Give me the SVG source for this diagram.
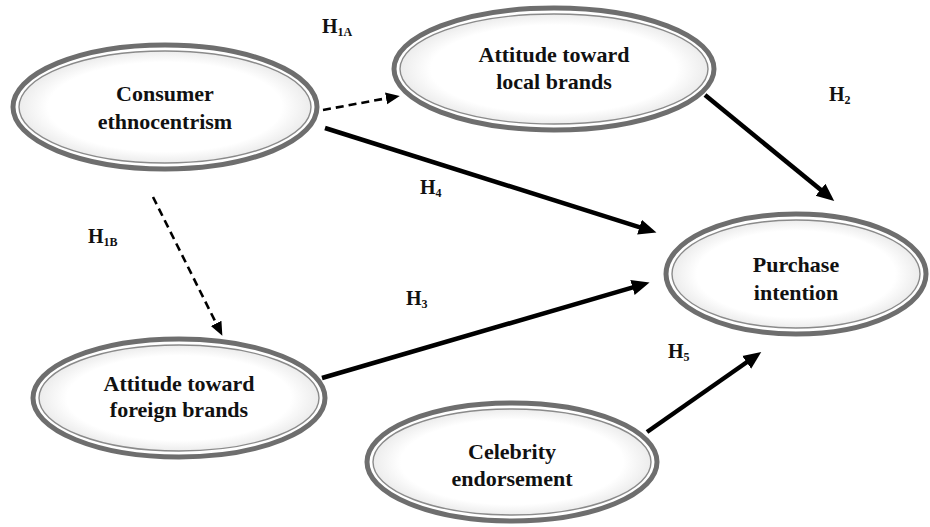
<svg xmlns="http://www.w3.org/2000/svg" width="930" height="527" viewBox="0 0 930 527">
<style>
.outer{fill:none;stroke:#6e6e6e;stroke-width:5}
.inner{fill:url(#fillg);stroke:#8a8a8a;stroke-width:1.4}
.lbl{font-family:"Liberation Serif","Times New Roman",serif;font-weight:bold;font-size:22px;fill:#111;text-anchor:middle}
.h{font-family:"Liberation Serif","Times New Roman",serif;font-weight:bold;font-size:20px;fill:#111}
.sub{font-size:12px}
.solid{stroke:#000;stroke-width:4.5;fill:none;marker-end:url(#ah)}
.dash{stroke:#000;stroke-width:2.6;fill:none;stroke-dasharray:8 5;marker-end:url(#ahs)}
</style>
<defs>
<radialGradient id="fillg" cx="0.5" cy="0.5" r="0.5">
<stop offset="0.8" stop-color="#ffffff"/>
<stop offset="1" stop-color="#ececec"/>
</radialGradient>
<marker id="ah" markerUnits="userSpaceOnUse" markerWidth="20" markerHeight="20" viewBox="0 -8 18 16" refX="2" refY="0" orient="auto">
<path d="M0,-7 L16,0 L0,7 z" fill="#000"/>
</marker>
<marker id="ahs" markerUnits="userSpaceOnUse" markerWidth="16" markerHeight="16" viewBox="0 -7 15 14" refX="2" refY="0" orient="auto">
<path d="M0,-5.5 L13,0 L0,5.5 z" fill="#000"/>
</marker>
</defs>
<rect width="930" height="527" fill="#fff"/>

<g id="connectors">
<line class="dash" x1="323" y1="110" x2="388.2" y2="98"/>
<line class="dash" x1="153" y1="197" x2="217.1" y2="325.2"/>
<line class="solid" x1="325" y1="128" x2="641.6" y2="227.8"/>
<line class="solid" x1="322" y1="378" x2="634.6" y2="286.9"/>
<line class="solid" x1="705" y1="95" x2="822.2" y2="191.1"/>
<line class="solid" x1="647" y1="432" x2="748.5" y2="361"/>
</g>

<g id="labels">
<text class="h" x="322" y="33">H<tspan class="sub" dy="3">1A</tspan></text>
<text class="h" x="88" y="243">H<tspan class="sub" dy="3">1B</tspan></text>
<text class="h" x="420" y="194">H<tspan class="sub" dy="3">4</tspan></text>
<text class="h" x="406" y="305">H<tspan class="sub" dy="3">3</tspan></text>
<text class="h" x="829" y="101">H<tspan class="sub" dy="3">2</tspan></text>
<text class="h" x="668" y="358">H<tspan class="sub" dy="3">5</tspan></text>
</g>

<g id="consumer-ethnocentrism">
<ellipse class="outer" cx="165" cy="107" rx="152" ry="62"/>
<ellipse class="inner" cx="165" cy="107" rx="146" ry="56"/>
<text class="lbl" x="165" y="101">Consumer</text>
<text class="lbl" x="165" y="129">ethnocentrism</text>
</g>

<g id="attitude-local">
<ellipse class="outer" cx="554" cy="69" rx="160" ry="61"/>
<ellipse class="inner" cx="554" cy="69" rx="154" ry="55"/>
<text class="lbl" x="554" y="62">Attitude toward</text>
<text class="lbl" x="554" y="89">local brands</text>
</g>

<g id="purchase-intention">
<ellipse class="outer" cx="796" cy="274" rx="130" ry="60"/>
<ellipse class="inner" cx="796" cy="274" rx="124" ry="54"/>
<text class="lbl" x="796" y="272">Purchase</text>
<text class="lbl" x="796" y="300">intention</text>
</g>

<g id="attitude-foreign">
<ellipse class="outer" cx="179" cy="398" rx="146" ry="59"/>
<ellipse class="inner" cx="179" cy="398" rx="140" ry="53"/>
<text class="lbl" x="179" y="391">Attitude toward</text>
<text class="lbl" x="179" y="417">foreign brands</text>
</g>

<g id="celebrity-endorsement">
<ellipse class="outer" cx="512" cy="462" rx="145" ry="59"/>
<ellipse class="inner" cx="512" cy="462" rx="139" ry="53"/>
<text class="lbl" x="512" y="459">Celebrity</text>
<text class="lbl" x="512" y="486">endorsement</text>
</g>
</svg>
